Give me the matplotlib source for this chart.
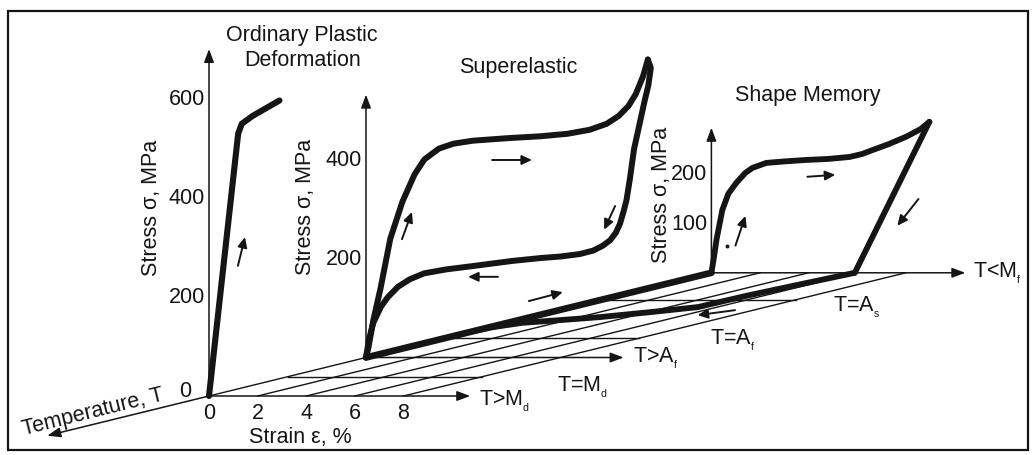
import matplotlib
matplotlib.use('Agg')
import matplotlib.pyplot as plt
from matplotlib.transforms import Affine2D
from matplotlib.patches import Rectangle
import numpy as np

plt.rcParams['font.family'] = ['Liberation Sans', 'DejaVu Sans']
plt.rcParams['mathtext.fontset'] = 'custom'
plt.rcParams['mathtext.rm'] = 'Liberation Sans'
plt.rcParams['mathtext.it'] = 'Liberation Sans'

# ---------------- data ----------------
# depth (temperature) position of each stress-strain plane
depth_plastic = 0.0
depth_superelastic = 1.0
depth_shape_memory = 3.2

# Ordinary plastic deformation (strain %, stress MPa)
plastic_strain = [0, 1.2, 1.35, 1.8, 2.9]
plastic_stress = [0, 530, 550, 566, 597]

# Superelastic loop: loading then unloading
se_load_strain = [0, 0.1, 0.3, 0.6, 1.0, 1.5, 2.0, 2.4, 3.0, 3.6, 4.4, 5.8, 7.2, 8.3, 9.2, 9.9, 10.4, 10.8, 11.1, 11.4, 11.6]
se_load_stress = [0, 20, 75, 140, 240, 315, 370, 400, 422, 432, 438, 443, 447, 452, 460, 472, 488, 508, 532, 568, 602]
se_unload_strain = [11.6, 11.72, 11.62, 11.45, 11.25, 11.03, 10.86, 10.72, 10.6, 10.45, 10.28, 10.05, 9.75, 9.35, 8.8, 8.0, 7.2, 6.0, 4.44, 3.3, 2.39, 1.8, 1.32, 0.9, 0.62, 0.3, 0.12, 0]
se_unload_stress = [602, 585, 550, 515, 470, 421, 361, 318, 295, 270, 252, 237, 226, 216, 209, 204, 201, 195, 185, 178, 170, 158, 143, 122, 103, 70, 36, 0]

# Shape memory loop: loading then linear unloading
sm_load_strain = [0, 0.1, 0.21, 0.45, 0.7, 1.03, 1.4, 1.69, 2.26, 3.0, 3.91, 4.8, 5.68, 6.2, 6.63, 7.3, 8.02, 8.6, 8.97]
sm_load_stress = [0, 30, 67, 127, 160, 182, 202, 212, 222, 225, 228, 230, 234, 240, 248, 260, 275, 290, 305]
sm_unload_strain = [8.97, 5.9]
sm_unload_stress = [305, 0]

# Zero-stress paths on the strain-temperature floor (strain %, depth)
cool_strain = [0, 0]
cool_depth = [1.0, 3.2]
heat_strain = [5.9, 5.6, 5.3, 5.2, 4.1, 2.85, 1.7, 0.6, 0.1, 0]
heat_depth = [3.2, 2.91, 2.6, 2.31, 2.18, 2.05, 1.97, 1.9, 1.78, 1.7]

# floor grid
grid_strains = [0, 2, 4, 6, 8]
grid_depths = [0.5, 1.5, 2.5]
strain_ticks = [0, 2, 4, 6, 8]
plastic_stress_ticks = [200, 400, 600]
se_stress_ticks = [200, 400]
sm_stress_ticks = [100, 200]

# ---------------- figure ----------------
fig = plt.figure(figsize=(10.36, 4.56), dpi=100)
ax = fig.add_axes([0, 0, 1, 1])
ax.set_xlim(0, 1036)
ax.set_ylim(456, 0)
ax.axis('off')

X0, Y0 = 209, 397
SX, SY = 24.3, 0.495
DX, DY = 157, 38.5
INK = '#151515'
FS = 15.5


def plane(t):
    return Affine2D().scale(SX, -SY).translate(X0 + DX * t, Y0 - DY * t) + ax.transData


floor = Affine2D(np.array([[SX, DX, X0], [0, -DY, Y0], [0, 0, 1]])) + ax.transData


def axis_arrow(p0, p1, tr, lw=1.1):
    ax.annotate('', xy=p1, xycoords=tr, xytext=p0, textcoords=tr,
                arrowprops=dict(arrowstyle='-|>,head_length=0.8,head_width=0.3',
                                lw=lw, color=INK, shrinkA=0, shrinkB=0))


def small_arrow(p0, p1, tr):
    ax.annotate('', xy=p1, xycoords=tr, xytext=p0, textcoords=tr,
                arrowprops=dict(arrowstyle='-|>,head_length=0.6,head_width=0.28',
                                lw=1.4, color=INK, shrinkA=0, shrinkB=0))


# floor grid
for e in grid_strains:
    ax.plot([e, e], [0, depth_shape_memory], color=INK, lw=1.0, transform=floor)
for d in grid_depths:
    ax.plot([0, 8], [d, d], color=INK, lw=1.0, transform=floor)

axis_arrow((0, depth_plastic), (10.75, depth_plastic), floor)
axis_arrow((0, depth_superelastic), (10.6, depth_superelastic), floor)
axis_arrow((0, depth_shape_memory), (10.45, depth_shape_memory), floor)
axis_arrow((0, 0), (0, -1.03), floor)

# stress axes
axis_arrow((0, 0), (0, 701), plane(depth_plastic))
axis_arrow((0, 0), (0, 531), plane(depth_superelastic))
axis_arrow((0, 0), (0, 293), plane(depth_shape_memory))

# thick curves
thick = dict(color=INK, solid_joinstyle='round', solid_capstyle='round')
ax.plot(plastic_strain, plastic_stress, lw=4.4, transform=plane(depth_plastic), **thick)
ax.plot(se_load_strain, se_load_stress, lw=4.3, transform=plane(depth_superelastic), **thick)
ax.plot(se_unload_strain, se_unload_stress, lw=4.3, transform=plane(depth_superelastic), **thick)
ax.plot(sm_load_strain, sm_load_stress, lw=4.2, transform=plane(depth_shape_memory), **thick)
ax.plot(sm_unload_strain, sm_unload_stress, lw=4.2, transform=plane(depth_shape_memory), **thick)
ax.plot(cool_strain, cool_depth, lw=4.8, transform=floor, **thick)
ax.plot(heat_strain, heat_depth, lw=4.2, transform=floor, **thick)

# direction arrows
small_arrow((1.19, 263), (1.48, 321), plane(depth_plastic))
small_arrow((1.48, 239), (1.89, 294), plane(depth_superelastic))
small_arrow((5.19, 399), (6.83, 399), plane(depth_superelastic))
small_arrow((10.25, 306), (9.8, 258), plane(depth_superelastic))
small_arrow((5.43, 163), (4.20, 163), plane(depth_superelastic))
small_arrow((6.7, 114), (8.1, 132), plane(depth_superelastic))
small_arrow((0.99, 55), (1.40, 115), plane(depth_shape_memory))
small_arrow((3.95, 194), (5.10, 198), plane(depth_shape_memory))
small_arrow((8.52, 149), (7.65, 95), plane(depth_shape_memory))
small_arrow((7.24, 2.23), (6.54, 2.10), floor)
ax.plot([0.66], [55], marker='o', ms=1.8, color=INK, transform=plane(depth_shape_memory))

# tick labels
tk = dict(fontsize=FS, color=INK, textcoords='offset pixels')
for s in plastic_stress_ticks:
    ax.annotate(str(s), xy=(0, s), xycoords=plane(depth_plastic), xytext=(-4, 0), ha='right', va='center', **tk)
ax.annotate('0', xy=(0, 0), xycoords=plane(depth_plastic), xytext=(-24, 5), ha='center', va='center', **tk)
for s in se_stress_ticks:
    ax.annotate(str(s), xy=(0, s), xycoords=plane(depth_superelastic), xytext=(-4, 0), ha='right', va='center', **tk)
for s in sm_stress_ticks:
    ax.annotate(str(s), xy=(0, s), xycoords=plane(depth_shape_memory), xytext=(-4, 0), ha='right', va='center', **tk)
for e in strain_ticks:
    ax.annotate(str(e), xy=(e, 0), xycoords=floor, xytext=(0, -17), ha='center', va='center', **tk)

txt = dict(fontsize=FS, color=INK, ha='center', va='center')
ax.text(302, 35, 'Ordinary Plastic', **txt)
ax.text(303, 60, 'Deformation', **txt)
ax.text(518, 67, 'Superelastic', **txt)
ax.text(808, 95, 'Shape Memory', **txt)
ax.text(152, 208, 'Stress σ, MPa', rotation=90, **txt)
ax.text(306, 207, 'Stress σ, MPa', rotation=90, **txt)
ax.text(661, 195, 'Stress σ, MPa', rotation=90, **txt)
ax.text(300, 438, 'Strain ε, %', **txt)
ax.text(93, 412, 'Temperature, T', rotation=14, rotation_mode='anchor', **txt)

lab = dict(fontsize=FS, color=INK, ha='left', va='center')
ax.text(479, 401, r'T>M$_{_\mathrm{d}}$', **lab)
ax.text(557, 387, r'T=M$_{_\mathrm{d}}$', **lab)
ax.text(633, 358, r'T>A$_{_\mathrm{f}}$', **lab)
ax.text(710, 340, r'T=A$_{_\mathrm{f}}$', **lab)
ax.text(833, 307, r'T=A$_{_\mathrm{s}}$', **lab)
ax.text(973, 273, r'T<M$_{_\mathrm{f}}$', **lab)

ax.add_patch(Rectangle((8, 12), 1020, 439, fill=False, ec=INK, lw=1.6))

fig.savefig('out.png', dpi=100)
